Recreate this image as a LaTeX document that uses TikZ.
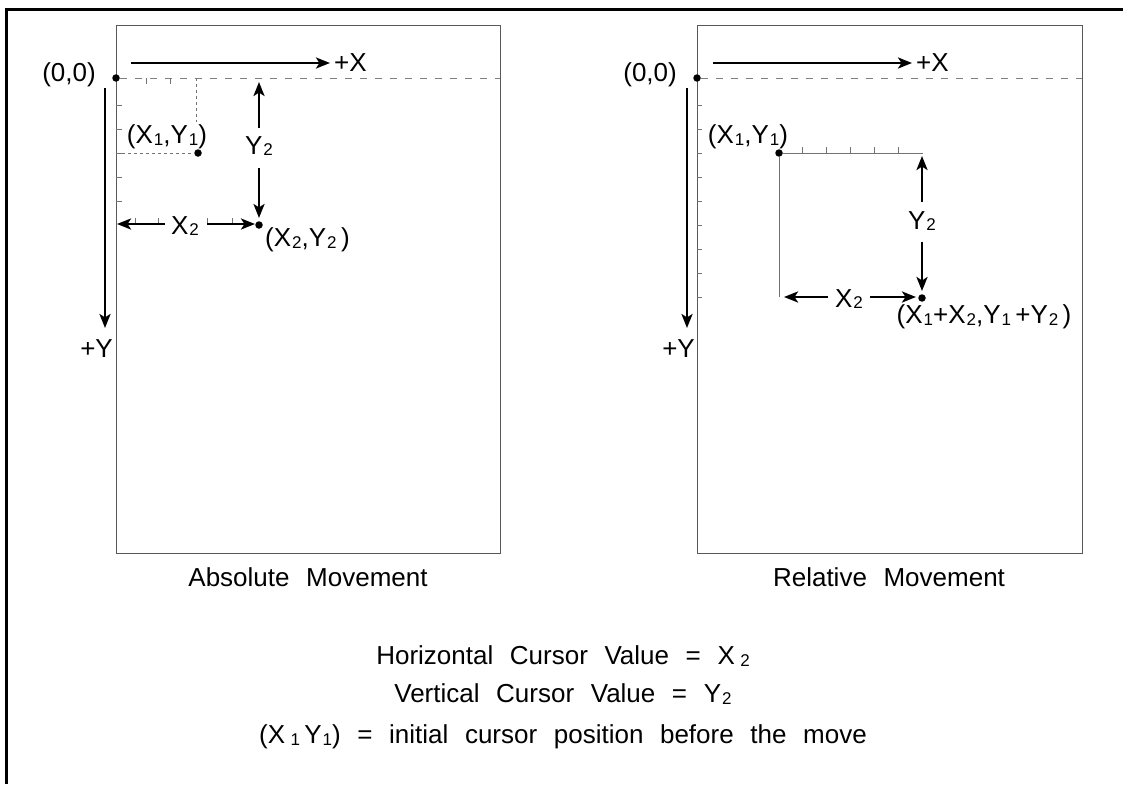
\documentclass[tikz,border=0pt]{standalone}
\usepackage{fontspec}
\setmainfont{Liberation Sans}[WordSpace=2.3]
\usetikzlibrary{arrows.meta}
\newcommand{\sbs}[1]{\kern1pt\raisebox{-1.5pt}{\fontsize{17}{17}\selectfont #1}}
\tikzset{
  frameline/.style={line width=3pt},
  panel/.style={draw=black!65,line width=1pt},
  axisdash/.style={draw=black!50,line width=1pt,dash pattern=on 7pt off 8pt},
  tickline/.style={draw=black!55,line width=0.9pt},
  dotline/.style={draw=black!55,line width=0.9pt,dash pattern=on 3pt off 3pt},
  guide/.style={draw=black!55,line width=1pt},
  arr/.style={-{Stealth[length=14pt,width=11pt,inset=3.5pt]},line width=2.8pt},
  pt/.style={circle,fill=black,inner sep=0pt,minimum size=7.5pt},
  lbl/.style={font=\fontsize{26}{30}\selectfont,inner sep=0pt}
}
\begin{document}
\begin{tikzpicture}[x=1pt,y=-1pt]
\useasboundingbox (0,0) rectangle (1123,784);
% outer frame
\draw[frameline] (6.5,784) -- (6.5,9.5) -- (1123,9.5);

% ================= Left panel: Absolute =================
\draw[panel] (116,26) rectangle (500,553);
\node[pt] (o1) at (116,78) {};
\coordinate (o1r) at (500,78);
\draw[axisdash] (o1) -- (o1r);
\foreach \y in {105,129,153,177,201} \draw[tickline] (116,\y) -- (122,\y);
\foreach \x in {146,170} \draw[tickline] (\x,78) -- (\x,84);
\node[pt] (p1) at (198,153) {};
\draw[dotline] (196,78) -- (196,122);
\draw[dotline] (116,153) -- (p1);
\node[lbl] (l1) at (167,137) {(X\sbs{1},Y\sbs{1})};
\node[lbl,anchor=east] (z1) at (96,75) {(0,0)};
% +X / +Y
\coordinate (ax1s) at (131,63); \coordinate (ax1e) at (330,63);
\draw[arr] (ax1s) -- (ax1e);
\node[lbl,anchor=west] (px1) at (334,63) {+X};
\coordinate (ay1s) at (105,88); \coordinate (ay1e) at (105,328);
\draw[arr] (ay1s) -- (ay1e);
\node[lbl,anchor=east] (py1) at (113,349) {+Y};
% Y2
\node[pt] (p2) at (259,225) {};
\node[lbl] (ly1) at (259,146) {Y\sbs{2}};
\coordinate (y1a) at (259,128); \coordinate (y1b) at (259,82);
\coordinate (y1c) at (259,168); \coordinate (y1d) at (259,218);
\draw[arr] (y1a) -- (y1b);
\draw[arr] (y1c) -- (y1d);
% X2
\foreach \x in {135,158,207,232} \draw[tickline] (\x,224) -- (\x,218);
\node[lbl] (lx1) at (185,226) {X\sbs{2}};
\coordinate (x1a) at (165,224); \coordinate (x1b) at (117,224);
\coordinate (x1c) at (207,224); \coordinate (x1d) at (255,224);
\draw[arr] (x1a) -- (x1b);
\draw[arr] (x1c) -- (x1d);
\node[lbl,anchor=west] (l2) at (265,240) {(X\sbs{2},Y\sbs{2}\,)};
\node[lbl] (cap1) at (308,577) {Absolute Movement};

% ================= Right panel: Relative =================
\draw[panel] (697,26) rectangle (1082,553);
\node[pt] (o2) at (697,78) {};
\coordinate (o2r) at (1082,78);
\draw[axisdash] (o2) -- (o2r);
\foreach \y in {105,129,153,177,201,225,249,273,297} \draw[tickline] (697,\y) -- (702,\y);
\node[lbl,anchor=east] (z2) at (677,75) {(0,0)};
\coordinate (ax2s) at (713,63); \coordinate (ax2e) at (912,63);
\draw[arr] (ax2s) -- (ax2e);
\node[lbl,anchor=west] (px2) at (916,63) {+X};
\coordinate (ay2s) at (687,88); \coordinate (ay2e) at (687,328);
\draw[arr] (ay2s) -- (ay2e);
\node[lbl,anchor=east] (py2) at (695,349) {+Y};
% start point and guide lines
\node[pt] (q1) at (779,153) {};
\coordinate (q1r) at (923,153); \coordinate (q1b) at (779,297);
\draw[guide] (q1) -- (q1r);
\draw[guide] (q1) -- (q1b);
\foreach \x in {802,826,850,874,898} \draw[tickline] (\x,153) -- (\x,147);
\node[lbl] (l3) at (748,137) {(X\sbs{1},Y\sbs{1})};
% Y2
\node[pt] (q2) at (922,298) {};
\node[lbl] (ly2) at (922,221) {Y\sbs{2}};
\coordinate (y2a) at (922,202); \coordinate (y2b) at (922,156);
\coordinate (y2c) at (922,242); \coordinate (y2d) at (922,291);
\draw[arr] (y2a) -- (y2b);
\draw[arr] (y2c) -- (y2d);
% X2
\node[lbl] (lx2) at (849,299) {X\sbs{2}};
\coordinate (x2a) at (828,297); \coordinate (x2b) at (784,297);
\coordinate (x2c) at (870,297); \coordinate (x2d) at (916,297);
\draw[arr] (x2a) -- (x2b);
\draw[arr] (x2c) -- (x2d);
\node[lbl] (l4) at (984,317) {(X\sbs{1}+X\sbs{2},Y\sbs{1}\,+Y\sbs{2}\,)};
\node[lbl] (cap2) at (889,577) {Relative Movement};

% ================= Bottom text =================
\node[lbl] (t1) at (563,656) {Horizontal Cursor Value = X\,\sbs{2}};
\node[lbl] (t2) at (563,694) {Vertical Cursor Value = Y\sbs{2}};
\node[lbl] (t3) at (563,737) {(X\,\sbs{1}\,Y\sbs{1}) = initial cursor position before the move};
\end{tikzpicture}
\end{document}
